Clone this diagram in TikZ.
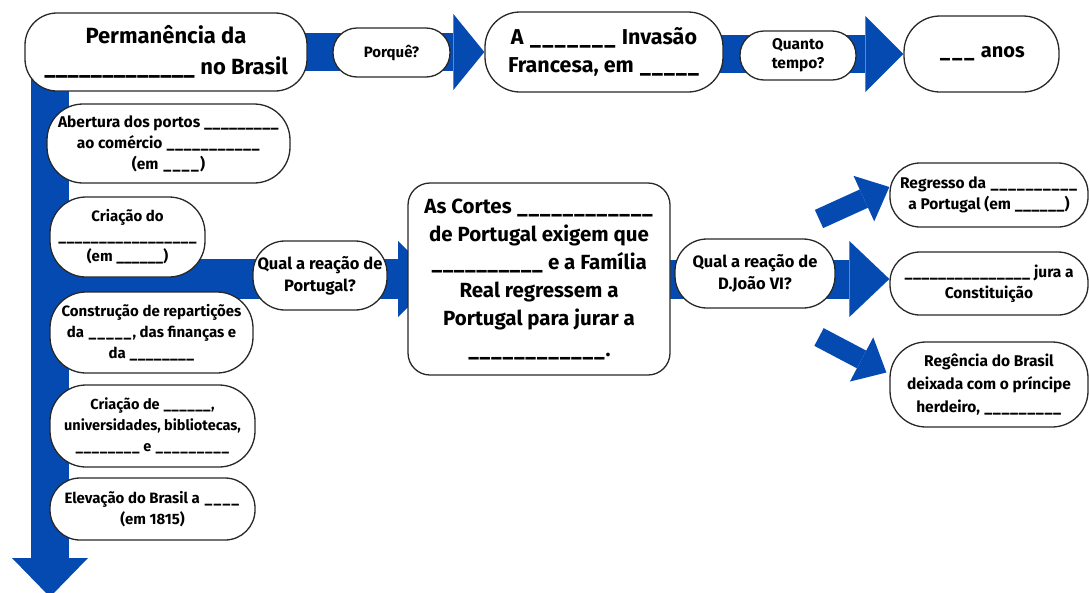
\documentclass[tikz,border=0pt]{standalone}
\usepackage{fontspec}
\setmainfont{Fira Sans}
\usetikzlibrary{arrows.meta,backgrounds,calc}
\definecolor{arrowblue}{RGB}{4,74,176}
\definecolor{edgegray}{RGB}{40,40,40}
\newcommand\bl[1]{\xleaders\hbox{\_}\hskip#1pt\relax\hbox{}}
\tikzset{
  box/.style={draw=edgegray, line width=1.3pt, fill=white, align=center, inner sep=0pt},
  fs/.style 2 args={font=\bfseries\fontsize{#1}{#2}\selectfont},
  barrow/.style n args={3}{draw=arrowblue, fill=arrowblue, line width=#1,
    -{Triangle[length=#2, width=#3, line width=0pt]}},
}
\begin{document}
\begin{tikzpicture}[x=1pt,y=-1pt]
\useasboundingbox (0,0) rectangle (1089,592);
% top row
\node[box, fs={22}{31}, minimum width=282pt, minimum height=78pt, rounded corners=32pt] (top) at (166,52) {Permanência da\\\bl{151} no Brasil};
\node[box, fs={15}{19}, minimum width=117pt, minimum height=49pt, rounded corners=24pt] (porq) at (391.5,52.5) {Porquê?};
\node[box, fs={21.5}{28}, minimum width=238pt, minimum height=80pt, rounded corners=35pt] (inv) at (604,52) {A \bl{88} Invasão\\Francesa, em \bl{61}};
\node[box, fs={15.5}{19}, minimum width=116pt, minimum height=49pt, rounded corners=24pt] (quanto) at (798,55.5) {Quanto\\tempo?};
\node[box, fs={20}{26}, minimum width=155pt, minimum height=76pt, rounded corners=36pt] (anos) at (981.5,54) {\bl{38} anos};
% left column
\node[box, fs={15.5}{21}, minimum width=243pt, minimum height=79pt, rounded corners=36pt] (abert) at (168.5,143.5) {Abertura dos portos \bl{75}\\ao comércio \bl{94}\\(em \bl{38})};
\node[box, fs={15}{20}, minimum width=155pt, minimum height=80pt, rounded corners=36pt] (criado) at (127.5,237) {Criação do\\\bl{139}\\(em \bl{47})};
\node[box, fs={15}{21}, minimum width=203pt, minimum height=81pt, rounded corners=36pt] (constr) at (151.5,332.5) {Construção de repartições\\da \bl{45}, das finanças e\\da \bl{65}};
\node[box, fs={14.5}{21}, minimum width=205pt, minimum height=82pt, rounded corners=36pt] (criade) at (152.5,426) {Criação de \bl{48},\\universidades, bibliotecas,\\\bl{65} e \bl{75}};
\node[box, fs={15}{21}, minimum width=205pt, minimum height=62pt, rounded corners=30pt] (elev) at (152.5,509) {Elevação do Brasil a \bl{37}\\(em 1815)};
% middle
\node[box, fs={16.5}{22}, minimum width=134pt, minimum height=69pt, rounded corners=32pt] (qport) at (320,275.5) {Qual a reação de\\Portugal?};
\node[box, fs={20.5}{28}, minimum width=262pt, minimum height=192pt, rounded corners=22pt] (cortes) at (539,279) {As Cortes \bl{137}\\de Portugal exigem que\\\bl{112} e a Família\\Real regressem a\\Portugal para jurar a\\[3pt]\bl{138}.};
\node[box, fs={16.5}{22}, minimum width=160pt, minimum height=69pt, rounded corners=32pt] (djoao) at (755,273.5) {Qual a reação de\\D.João VI?};
% right column
\node[box, fs={15.5}{21}, minimum width=198pt, minimum height=64pt, rounded corners=30pt] (reg) at (989,195) {Regresso da \bl{88}\\a Portugal (em \bl{50})};
\node[box, fs={15.5}{21}, minimum width=198pt, minimum height=63pt, rounded corners=30pt] (jura) at (989,283.5) {\bl{126} jura a\\Constituição};
\node[box, fs={15.5}{23}, minimum width=198pt, minimum height=85pt, rounded corners=36pt] (regen) at (989,384.5) {Regência do Brasil\\deixada com o príncipe\\herdeiro, \bl{78}};
% connector end points
\coordinate (vstart) at (50,60);
\coordinate (vend) at (50,597);
\coordinate (lbstart) at (50,279);
\coordinate (lbend) at (436,279);
\coordinate (dustart) at (819,219);
\coordinate (ddstart) at (819,337);
\begin{scope}[on background layer]
\draw[barrow={38pt}{31pt}{76pt}] (top.center) -- (inv.west);
\draw[barrow={38pt}{38pt}{76pt}] (inv.center |- anos.west) -- (anos.west);
\draw[barrow={38pt}{39pt}{76pt}] (vstart) -- (vend);
\draw[barrow={40pt}{38pt}{76pt}] (lbstart) -- (lbend);
\draw[barrow={39pt}{40pt}{76pt}] (cortes.center) -- (cortes.center -| jura.west);
\draw[barrow={20pt}{28pt}{50pt}] (dustart) -- ($(reg.west)+(0,-8)$);
\draw[barrow={20pt}{28pt}{50pt}] (ddstart) -- ($(regen.west)+(-3,-12)$);
\end{scope}
\end{tikzpicture}
\end{document}
